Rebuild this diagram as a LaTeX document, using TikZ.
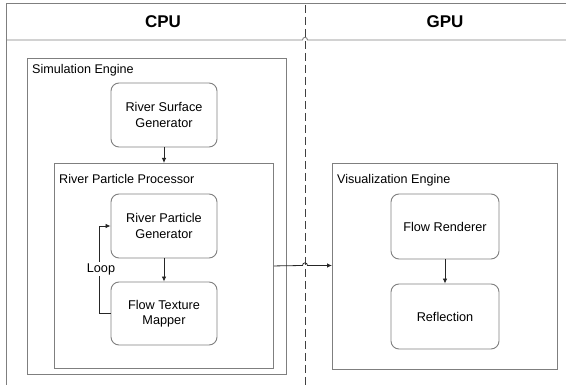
\documentclass[tikz,border=0pt]{standalone}
\usepackage{fontspec}
\setmainfont{Liberation Sans}
\usetikzlibrary{arrows.meta,calc}
\definecolor{edge}{HTML}{7F7F7F}
\definecolor{dash}{HTML}{404040}
\tikzset{
  proc/.style={draw=edge, line width=0.9pt, rounded corners=8pt, minimum width=106pt, minimum height=64pt, align=center, font=\fontsize{12.7}{15.5}\selectfont, inner sep=0pt},
  cont/.style={draw=edge, line width=0.9pt, anchor=north west, inner sep=0pt},
  clabel/.style={anchor=base west, font=\fontsize{12.6}{14}\selectfont, inner sep=0pt},
  head/.style={font=\fontsize{17}{20}\selectfont\bfseries},
  conn/.style={draw=black!85, line width=0.8pt, -{Latex[length=5pt,width=4.5pt]}},
  frame/.style={draw=edge, line width=0.9pt},
}
\begin{document}
\begin{tikzpicture}[x=1pt,y=-1pt]
\useasboundingbox (0,0) rectangle (566,385);
% outer frame
\coordinate (tl) at (6,3);
\coordinate (tr) at (566,3);
\coordinate (bl) at (6,385);
\coordinate (hl) at (6,40);
\coordinate (hr) at (566,40);
\coordinate (hopA) at (302.5,40);
\coordinate (hopB) at (307.5,40);
\draw[frame] (tr) -- (tl) -- (bl);
\draw[frame] (hl) -- (hopA) .. controls (302.5,36.5) and (307.5,36.5) .. (hopB) -- (hr);
% headers
\node[head] (cpu) at (163,22) {CPU};
\node[head] (gpu) at (445,22) {GPU};
% divider
\coordinate (dtop) at (305,5);
\coordinate (dbot) at (305,385);
\draw[draw=dash, line width=0.9pt, dash pattern=on 8pt off 4pt] (dtop) -- (dbot);
% containers
\node[cont, minimum width=259pt, minimum height=316pt] (sim) at (27,58) {};
\node[clabel] (simlab) at ($(sim.north west)+(5,16)$) {Simulation Engine};
\node[cont, minimum width=219pt, minimum height=205pt] (rpp) at (54,163) {};
\node[clabel] (rpplab) at ($(rpp.north west)+(5,21)$) {River Particle Processor};
\node[cont, minimum width=225pt, minimum height=206pt] (vis) at (332,163) {};
\node[clabel] (vislab) at ($(vis.north west)+(5,21)$) {Visualization Engine};
% process boxes
\node[proc] (rsg) at (164,115) {River Surface\\Generator};
\node[proc] (rpg) at (164,226) {River Particle\\Generator};
\node[proc, minimum height=63pt] (ftm) at (164,313.5) {Flow Texture\\Mapper};
\node[proc, minimum width=108pt, minimum height=65pt] (fr) at (445,226.5) {Flow Renderer};
\node[proc, minimum width=108pt, minimum height=65pt] (refl) at (445,316.5) {Reflection};
% connectors
\draw[conn] (rsg.south) -- (rsg.south |- rpp.north);
\draw[conn] (rpg.south) -- (ftm.north);
\draw[conn] (fr.south) -- (refl.north);
\draw[conn] (ftm.west) -- ++(-11,0) |- (rpg.west);
\node[fill=white, inner sep=1pt, font=\fontsize{12.7}{14}\selectfont] (loop) at (101,269) {Loop};
\coordinate (hopC) at (302.5,265.5);
\coordinate (hopD) at (307.5,265.5);
\draw[conn] (rpp.east) -- (hopC) .. controls (302.5,262) and (307.5,262) .. (hopD) -- (hopD -| vis.west);
\end{tikzpicture}
\end{document}
